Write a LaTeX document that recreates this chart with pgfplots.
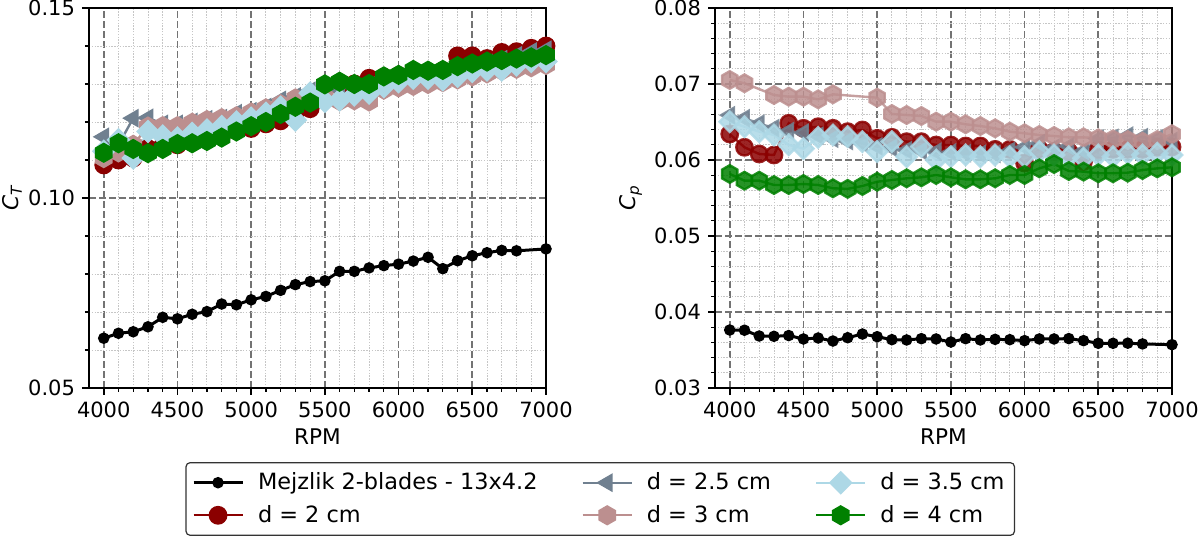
\documentclass[border=0pt]{standalone}
\usepackage{fontspec}
\setmainfont{DejaVu Sans}
\usepackage{pgfplots}
\pgfplotsset{compat=1.18}
\usetikzlibrary{plotmarks}
\definecolor{cRed}{HTML}{8B0000}
\definecolor{cSlate}{HTML}{708090}
\definecolor{cRosy}{HTML}{BC8F8F}
\definecolor{cBlue}{HTML}{ADD8E6}
\definecolor{cGreen}{HTML}{008000}
\pgfdeclareplotmark{hexagon*}{%
  \pgfpathmoveto{\pgfqpointpolar{90}{\pgfplotmarksize}}%
  \pgfpathlineto{\pgfqpointpolar{150}{\pgfplotmarksize}}%
  \pgfpathlineto{\pgfqpointpolar{210}{\pgfplotmarksize}}%
  \pgfpathlineto{\pgfqpointpolar{270}{\pgfplotmarksize}}%
  \pgfpathlineto{\pgfqpointpolar{330}{\pgfplotmarksize}}%
  \pgfpathlineto{\pgfqpointpolar{30}{\pgfplotmarksize}}%
  \pgfpathclose\pgfusepathqfillstroke}
\pgfplotsset{
  myax/.style={
    scale only axis, width=228.5bp, height=190bp, anchor=south west,
    xmin=3900, xmax=7000,
    xtick={4000,4500,5000,5500,6000,6500,7000},
    minor x tick num=4, minor y tick num=4,
    grid=both,
    major grid style={black!55, line width=0.8bp, dash pattern=on 3.4bp off 1.6bp},
    minor grid style={gray!45, line width=0.45bp, dash pattern=on 0.7bp off 0.7bp},
    axis line style={line width=0.8bp},
    tick align=outside, xtick pos=bottom, ytick pos=left,
    major tick length=3.5bp, minor tick length=2bp,
    every tick/.style={black, line width=0.8bp},
    minor tick style={black, line width=0.6bp},
    ticklabel style={font=\fontsize{10.5bp}{12bp}\selectfont},
    /pgf/number format/assume math mode=true,
    xticklabel style={/pgf/number format/1000 sep={}},
    yticklabel style={/pgf/number format/.cd, fixed, fixed zerofill, precision=2},
    scaled y ticks=false,
    label style={font=\fontsize{10.8bp}{12bp}\selectfont},
    xlabel={RPM},
    xlabel style={at={(axis description cs:0.5,-0.1276)}, anchor=center},
  },
  sBlack/.style={black, line width=1.5bp, mark=*, mark size=2.1bp},
  sRed/.style={cRed, line width=1.2bp, mark=*, mark size=4.1bp},
  sSlate/.style={cSlate, line width=1.2bp, mark=triangle*, mark size=4.3bp, mark options={rotate=90}},
  sRosy/.style={cRosy, line width=1.2bp, mark=hexagon*, mark size=4.4bp},
  sBlue/.style={cBlue, line width=1.2bp, mark=square*, mark size=3.6bp, mark options={rotate=45}},
  sGreen/.style={cGreen, line width=1.2bp, mark=hexagon*, mark size=4.4bp},
}
\begin{document}
\begin{tikzpicture}
\path[use as bounding box] (0bp,0bp) rectangle (600bp,268.5bp);
% ---------------- left: C_T ----------------
\begin{axis}[myax, at={(44.5bp,74.5bp)},
  ymin=0.05, ymax=0.15, ytick={0.05,0.10,0.15},
  ylabel={\itshape C\textsubscript{\itshape T}},
  ylabel style={at={(axis description cs:-0.168,0.5)}, anchor=center},
]
\addplot[sBlack] coordinates {(4000,0.0631)(4100,0.0644)(4200,0.0648)(4300,0.0661)(4400,0.0686)(4500,0.0682)(4600,0.0694)(4700,0.0701)(4800,0.0721)(4900,0.0719)(5000,0.0732)(5100,0.0741)(5200,0.0757)(5300,0.0772)(5400,0.0780)(5500,0.0782)(5600,0.0807)(5700,0.0807)(5800,0.0816)(5900,0.0822)(6000,0.0826)(6100,0.0834)(6200,0.0844)(6300,0.0814)(6400,0.0835)(6500,0.0848)(6600,0.0856)(6700,0.0862)(6800,0.0861)(7000,0.0866)};
\addplot[sRed] coordinates {(4000,0.1087)(4100,0.1100)(4200,0.1105)(4300,0.1130)(4400,0.1137)(4500,0.1140)(4600,0.1165)(4700,0.1160)(4800,0.1165)(4900,0.1178)(5000,0.1183)(5100,0.1195)(5200,0.1203)(5300,0.1225)(5400,0.1235)(5500,0.1290)(5600,0.1295)(5700,0.1300)(5800,0.1315)(5900,0.1318)(6000,0.1322)(6100,0.1330)(6200,0.1330)(6300,0.1335)(6400,0.1374)(6500,0.1374)(6600,0.1367)(6700,0.1383)(6800,0.1385)(6900,0.1394)(7000,0.1400)};
\addplot[sSlate] coordinates {(4000,0.1161)(4100,0.1140)(4200,0.1210)(4300,0.1211)(4400,0.1195)(4500,0.1195)(4600,0.1200)(4700,0.1207)(4800,0.1210)(4900,0.1223)(5000,0.1228)(5100,0.1239)(5200,0.1258)(5300,0.1267)(5400,0.1282)(5500,0.1285)(5600,0.1285)(5700,0.1290)(5800,0.1295)(5900,0.1300)(6000,0.1310)(6100,0.1318)(6200,0.1320)(6300,0.1322)(6400,0.1335)(6500,0.1345)(6600,0.1355)(6700,0.1365)(6800,0.1375)(6900,0.1385)(7000,0.1390)};
\addplot[sRosy] coordinates {(4000,0.1105)(4100,0.1120)(4200,0.1140)(4300,0.1188)(4400,0.1189)(4500,0.1189)(4600,0.1198)(4700,0.1205)(4800,0.1210)(4900,0.1215)(5000,0.1225)(5100,0.1236)(5200,0.1247)(5300,0.1262)(5400,0.1265)(5500,0.1265)(5600,0.1255)(5700,0.1257)(5800,0.1254)(5900,0.1285)(6000,0.1291)(6100,0.1295)(6200,0.1300)(6300,0.1305)(6400,0.1312)(6500,0.1320)(6600,0.1328)(6700,0.1335)(6800,0.1340)(6900,0.1344)(7000,0.1350)};
\addplot[sBlue] coordinates {(4000,0.1123)(4100,0.1153)(4200,0.1105)(4300,0.1175)(4400,0.1163)(4500,0.1158)(4600,0.1170)(4700,0.1179)(4800,0.1188)(4900,0.1200)(5000,0.1210)(5100,0.1223)(5200,0.1239)(5300,0.1205)(5400,0.1276)(5500,0.1254)(5600,0.1258)(5700,0.1271)(5800,0.1276)(5900,0.1293)(6000,0.1306)(6100,0.1315)(6200,0.1315)(6300,0.1311)(6400,0.1320)(6500,0.1333)(6600,0.1337)(6700,0.1337)(6800,0.1350)(6900,0.1359)(7000,0.1359)};
\addplot[sGreen] coordinates {(4000,0.1119)(4100,0.1144)(4200,0.1129)(4300,0.1118)(4400,0.1129)(4500,0.1142)(4600,0.1144)(4700,0.1150)(4800,0.1159)(4900,0.1175)(5000,0.1189)(5100,0.1200)(5200,0.1221)(5300,0.1240)(5400,0.1251)(5500,0.1299)(5600,0.1306)(5700,0.1300)(5800,0.1300)(5900,0.1320)(6000,0.1324)(6100,0.1337)(6200,0.1335)(6300,0.1337)(6400,0.1347)(6500,0.1354)(6600,0.1359)(6700,0.1363)(6800,0.1367)(6900,0.1370)(7000,0.1376)};
\end{axis}
% ---------------- right: C_p ----------------
\begin{axis}[myax, at={(357.5bp,74.5bp)},
  ymin=0.03, ymax=0.08, ytick={0.03,0.04,0.05,0.06,0.07,0.08},
  ylabel={\itshape C\textsubscript{\itshape p}},
  ylabel style={at={(axis description cs:-0.184,0.5)}, anchor=center},
  legend columns=3,
  legend cell align=left,
  legend style={at={(axis description cs:-0.2511,-0.2921)}, anchor=center,
    draw=black!80, line width=0.6bp, rounded corners=2bp,
    font=\fontsize{11.2bp}{13bp}\selectfont,
    inner xsep=3bp, inner ysep=3bp, row sep=2.3bp,
    /tikz/every odd column/.append style={column sep=5bp},
    /tikz/every even column/.append style={column sep=20bp}},
  legend image code/.code={\draw[mark repeat=2,mark phase=2] plot coordinates {(0bp,0bp) (12.25bp,0bp) (24.5bp,0bp)};},
]
\addlegendimage{sBlack}\addlegendentry{Mejzlik 2-blades - 13x4.2}
\addlegendimage{sSlate}\addlegendentry{d = 2.5 cm}
\addlegendimage{sBlue}\addlegendentry{d = 3.5 cm}
\addlegendimage{sRed}\addlegendentry{d = 2 cm}
\addlegendimage{sRosy}\addlegendentry{d = 3 cm}
\addlegendimage{sGreen}\addlegendentry{d = 4 cm}
\addplot[sBlack, forget plot] coordinates {(4000,0.03763)(4100,0.0376)(4200,0.03684)(4300,0.0368)(4400,0.0369)(4500,0.03645)(4600,0.03658)(4700,0.03618)(4800,0.03662)(4900,0.0371)(5000,0.03675)(5100,0.03636)(5200,0.03632)(5300,0.03649)(5400,0.03645)(5500,0.03605)(5600,0.03649)(5700,0.03632)(5800,0.0364)(5900,0.03636)(6000,0.03623)(6100,0.03645)(6200,0.03645)(6300,0.0365)(6400,0.03623)(6500,0.03588)(6600,0.03588)(6700,0.0359)(6800,0.0358)(7000,0.0357)};
\addplot[sRed, opacity=0.85, forget plot] coordinates {(4000,0.06342)(4100,0.06167)(4200,0.06079)(4300,0.06066)(4400,0.06483)(4500,0.06417)(4600,0.06438)(4700,0.06417)(4800,0.06373)(4900,0.06395)(5000,0.06285)(5100,0.06298)(5200,0.06241)(5300,0.06241)(5400,0.06197)(5500,0.06197)(5600,0.06184)(5700,0.06184)(5800,0.0614)(5900,0.0614)(6000,0.0596)(6100,0.0614)(6200,0.06111)(6300,0.0611)(6400,0.0598)(6500,0.06132)(6600,0.0614)(6700,0.0614)(6800,0.0614)(6900,0.06167)(7000,0.06172)};
\addplot[sSlate, opacity=0.85, forget plot] coordinates {(4000,0.0659)(4100,0.0655)(4200,0.0648)(4300,0.0642)(4400,0.0638)(4500,0.0636)(4600,0.0632)(4700,0.0628)(4800,0.0625)(4900,0.0622)(5000,0.0618)(5100,0.0616)(5200,0.0613)(5300,0.0612)(5400,0.0611)(5500,0.0610)(5600,0.0609)(5700,0.0608)(5800,0.0608)(5900,0.0612)(6000,0.0617)(6100,0.0622)(6200,0.0616)(6300,0.0618)(6400,0.0612)(6500,0.0628)(6600,0.0629)(6700,0.0632)(6800,0.0630)(6900,0.0628)(7000,0.0625)};
\addplot[sRosy, opacity=0.85, forget plot] coordinates {(4000,0.07053)(4100,0.0701)(4300,0.06855)(4400,0.06833)(4500,0.06833)(4600,0.06798)(4700,0.06864)(5000,0.0682)(5100,0.06605)(5200,0.06592)(5300,0.06579)(5400,0.06504)(5500,0.06504)(5600,0.0647)(5700,0.06447)(5800,0.06417)(5900,0.06373)(6000,0.06351)(6100,0.06329)(6200,0.06316)(6300,0.06298)(6400,0.06298)(6500,0.06285)(6600,0.06272)(6700,0.06263)(6800,0.06241)(6900,0.06263)(7000,0.06340)};
\addplot[sBlue, opacity=0.85, forget plot] coordinates {(4000,0.06504)(4100,0.06438)(4200,0.06373)(4300,0.06329)(4400,0.06200)(4500,0.06150)(4600,0.06298)(4700,0.06329)(4800,0.06308)(4900,0.06241)(5000,0.06111)(5100,0.06241)(5200,0.06043)(5300,0.06175)(5400,0.06000)(5500,0.06043)(5600,0.06066)(5700,0.06043)(5800,0.06066)(5900,0.06043)(6000,0.06043)(6100,0.06111)(6200,0.06066)(6300,0.06043)(6400,0.06022)(6500,0.06066)(6600,0.06043)(6700,0.06088)(6800,0.06066)(6900,0.06088)(7000,0.06066)};
\addplot[sGreen, opacity=0.85, forget plot] coordinates {(4000,0.05816)(4100,0.05728)(4200,0.05728)(4300,0.05671)(4400,0.05671)(4500,0.05684)(4600,0.05671)(4700,0.05628)(4800,0.05620)(4900,0.05658)(5000,0.05714)(5100,0.05737)(5200,0.05759)(5300,0.05772)(5400,0.05803)(5500,0.05772)(5600,0.05746)(5700,0.05746)(5800,0.05759)(5900,0.05803)(6000,0.05803)(6100,0.05890)(6200,0.05947)(6300,0.05855)(6400,0.05847)(6500,0.05825)(6600,0.05825)(6700,0.05833)(6800,0.05868)(6900,0.05890)(7000,0.05904)};
\end{axis}
\end{tikzpicture}
\end{document}
